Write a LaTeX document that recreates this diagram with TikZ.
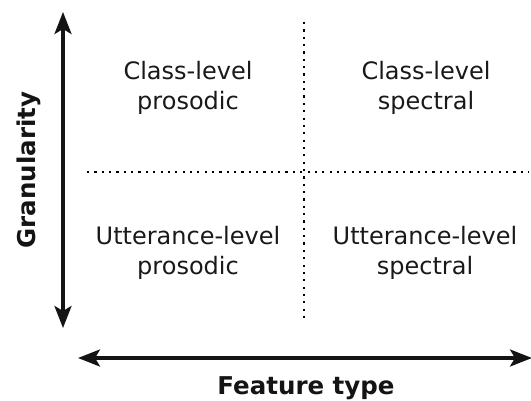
\documentclass[tikz,border=0pt]{standalone}
\usepackage{fontspec}
\setmainfont{DejaVu Sans}
\usetikzlibrary{arrows.meta}
\begin{document}
\begin{tikzpicture}[x=1pt,y=-1pt,
  axisarrow/.style={line width=3.3pt,color=black!92,{Stealth[length=22pt,width=17pt,inset=5pt]}-{Stealth[length=22pt,width=17pt,inset=5pt]}},
  dotline/.style={line width=2.2pt,color=black,dash pattern=on 2.2pt off 5.15pt},
  cell/.style={align=center,inner sep=0pt,font=\fontsize{24}{30}\selectfont,text=black!90},
  axislabel/.style={inner sep=0pt,font=\fontsize{24.5}{30}\selectfont\bfseries,text=black!92}]
\useasboundingbox (0,0) rectangle (531,401);
\coordinate (vtop) at (63,12);
\coordinate (vbot) at (63,328);
\coordinate (hleft) at (78,358);
\coordinate (hright) at (532,358);
\coordinate (dhl) at (87,172);
\coordinate (dhr) at (529,172);
\coordinate (dvt) at (304,22);
\coordinate (dvb) at (304,319);
\draw[dotline] (dhl) -- (dhr);
\draw[dotline] (dvt) -- (dvb);
\draw[axisarrow] (vtop) -- (vbot);
\draw[axisarrow] (hleft) -- (hright);
\node[cell] (cp) at (188,87.4) {Class-level\\prosodic};
\node[cell] (cs) at (426,87.4) {Class-level\\spectral};
\node[cell] (up) at (188,252.4) {Utterance-level\\prosodic};
\node[cell] (us) at (425,252.4) {Utterance-level\\spectral};
\node[axislabel,rotate=90] (gran) at (28.5,170) {Granularity};
\node[axislabel,anchor=base] (feat) at (306,395) {Feature type};
\end{tikzpicture}
\end{document}
